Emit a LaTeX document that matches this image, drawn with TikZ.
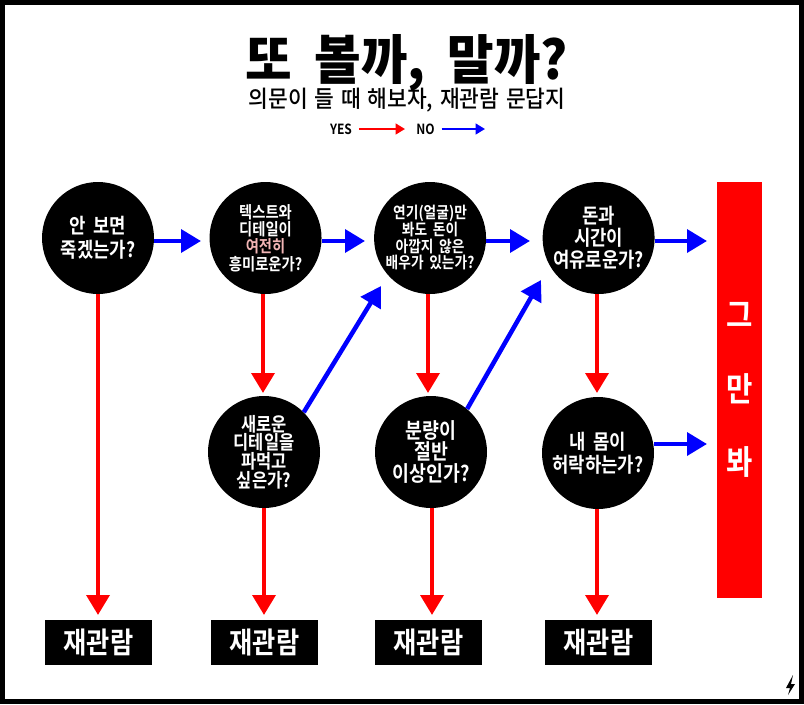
\documentclass[tikz,border=0pt]{standalone}
\usepackage{fontspec}
\setmainfont{Noto Sans CJK KR}
\newfontfamily\heavyfont[FakeStretch=0.95,WordSpace=1.9]{Noto Sans CJK KR Black}
\newfontfamily\boldfont[FakeStretch=0.86,WordSpace=1.8]{Noto Sans CJK KR Bold}
\newfontfamily\medfont[FakeStretch=0.92,WordSpace=1.4]{Noto Sans CJK KR Medium}
\usetikzlibrary{positioning,arrows.meta}
\tikzset{ask/.style={circle, fill=black, text=white, minimum size=84pt, inner sep=0pt, align=center}}
\tikzset{asks/.style={ask, font=\boldfont\fontsize{12.5}{13}\selectfont}}
\tikzset{askt/.style={ask, font=\boldfont\fontsize{12}{12.5}\selectfont}}
\tikzset{askn/.style={ask, font=\boldfont\fontsize{14.4}{14}\selectfont}}
\tikzset{askm/.style={ask, font=\boldfont\fontsize{15.5}{16.5}\selectfont}}
\tikzset{askl/.style={ask, font=\boldfont\fontsize{15.5}{18}\selectfont}}
\tikzset{again/.style={fill=black, text=white, minimum width=80pt, minimum height=34pt, inner sep=0pt, font=\boldfont\fontsize{22}{24}\selectfont}}
\tikzset{yes/.style={draw=red, line width=3.4pt, -{Triangle[length=15pt,width=17pt]}}}
\tikzset{no/.style={draw=blue, line width=3.4pt, -{Triangle[length=15pt,width=17pt]}}}
\tikzset{yesk/.style={draw=red, line width=1.5pt, -{Triangle[length=7pt,width=8pt]}}}
\tikzset{nok/.style={draw=blue, line width=1.5pt, -{Triangle[length=7pt,width=8pt]}}}
\tikzset{key/.style={inner sep=0pt, font=\boldfont\fontsize{10.5}{12}\selectfont}}
\begin{document}
\begin{tikzpicture}[x=0.75pt, y=-0.75pt]
	\useasboundingbox (0,0) rectangle (804,704);
	\draw[line width=4pt] (2.5,2.5) rectangle (801.5,701.5);

	\node[font=\heavyfont\fontsize{40}{44}\selectfont, inner sep=0pt] (title) at (407,63) {또 볼까, 말까?};
	\node[font=\medfont\fontsize{17.5}{20}\selectfont, inner sep=0pt] (sub) at (407,100) {의문이 들 때 해보자, 재관람 문답지};

	\node[key] (yes) at (341,129) {YES};
	\node[key] (no) at (425.5,129) {NO};
	\coordinate (yestip) at (405,129);
	\coordinate (notip) at (485,129);
	\draw[yesk] ([xshift=5pt]yes.east) -- (yestip);
	\draw[nok] ([xshift=5pt]no.east) -- (notip);

	\node[askl] (q1) at (98,238) {안 보면\\죽겠는가?};
	\node[asks, right=41.25pt of q1] (q2) {텍스트와\\디테일이\\\textcolor[HTML]{F2B5B5}{여전히}\\흥미로운가?};
	\node[askt, right=39pt of q2] (q3) {연기(얼굴)만\\봐도 돈이\\아깝지 않은\\배우가 있는가?};
	\node[askm, right=42pt of q3] (q4) {돈과\\시간이\\여유로운가?};
	\node[askn] (d2) at (264,452) {새로운\\디테일을\\파먹고\\싶은가?};
	\node[askm, font=\boldfont\fontsize{16}{16}\selectfont] (d3) at (431,452) {분량이\\절반\\이상인가?};
	\node[askm, font=\boldfont\fontsize{15.5}{17.5}\selectfont] (d4) at (598,453) {내 몸이\\허락하는가?};

	\node[again] (r1) at (98.5,642.5) {재관람};
	\node[again] (r2) at (264.5,642.5) {재관람};
	\node[again] (r3) at (428.5,642.5) {재관람};
	\node[again] (r4) at (598.5,642.5) {재관람};

	\node[fill=red, text=white, minimum width=33.75pt, minimum height=312pt, inner sep=0pt, align=center, font=\boldfont\fontsize{25}{55}\selectfont] (stop) at (739.5,390) {그\\만\\봐};

	% yes
	\coordinate (y1) at (98,615);
	\coordinate (y2) at (263,393);
	\coordinate (y3) at (264,615);
	\coordinate (y4) at (428,393);
	\coordinate (y5) at (432,615);
	\coordinate (y6) at (597,393);
	\coordinate (y7) at (597,615);
	\draw[yes] (q1.south -| y1) -- (y1);
	\draw[yes] (q2.south -| y2) -- (y2);
	\draw[yes] (d2.south -| y3) -- (y3);
	\draw[yes] (q3.south -| y4) -- (y4);
	\draw[yes] (d3.south -| y5) -- (y5);
	\draw[yes] (q4.south -| y6) -- (y6);
	\draw[yes] (d4.south -| y7) -- (y7);

	% no
	\coordinate (n1) at (201,241);
	\coordinate (n2) at (365,241);
	\coordinate (n3) at (530,241);
	\coordinate (n4) at (707,241);
	\coordinate (n5) at (707,444);
	\coordinate (n6) at (381,286);
	\coordinate (n7) at (541,280);
	\draw[no] (q1.east |- n1) -- (n1);
	\draw[no] (q2.east |- n2) -- (n2);
	\draw[no] (q3.east |- n3) -- (n3);
	\draw[no] (q4.east |- n4) -- (n4);
	\draw[no] (d4.east |- n5) -- (n5);
	\draw[no] (d2.45) -- (n6);
	\draw[no] (d3.50) -- (n7);

	\fill (793,675) -- (786,688) -- (790,688) -- (788,695) -- (795,684) -- (791,684) -- cycle;
\end{tikzpicture}
\end{document}
